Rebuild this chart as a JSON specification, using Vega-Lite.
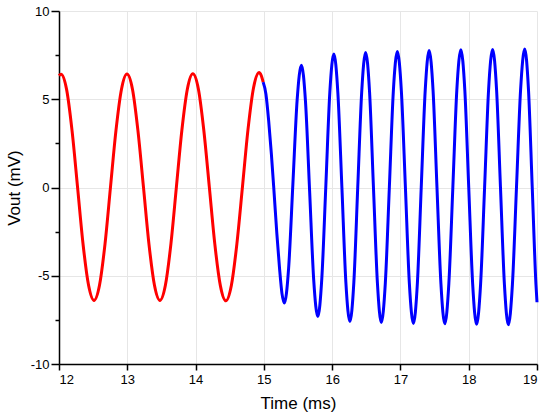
{
  "$schema": "https://vega.github.io/schema/vega-lite/v6.json",
  "width": 478,
  "height": 353,
  "autosize": "none",
  "padding": {"left": 59, "top": 11, "right": 13, "bottom": 56},
  "background": "white",
  "config": {
    "view": {"stroke": null},
    "font": "Liberation Sans",
    "axis": {
      "domainColor": "black",
      "domainWidth": 1.5,
      "tickColor": "black",
      "tickWidth": 1.5,
      "gridColor": "#e6e6e6",
      "gridWidth": 1,
      "labelColor": "black",
      "labelFontSize": 13,
      "labelFont": "Liberation Sans",
      "titleColor": "black",
      "titleFont": "Liberation Sans",
      "titleFontSize": 17,
      "titleFontWeight": "normal"
    }
  },
  "data": {
    "values": [
      {"t": 12.0, "v": 6.34, "part": "A"},
      {"t": 12.03, "v": 6.42, "part": "A"},
      {"t": 12.111, "v": 5.56, "part": "A"},
      {"t": 12.191, "v": 3.22, "part": "A"},
      {"t": 12.272, "v": 0.01, "part": "A"},
      {"t": 12.352, "v": -3.2, "part": "A"},
      {"t": 12.433, "v": -5.54, "part": "A"},
      {"t": 12.513, "v": -6.4, "part": "A"},
      {"t": 12.593, "v": -5.54, "part": "A"},
      {"t": 12.674, "v": -3.19, "part": "A"},
      {"t": 12.754, "v": 0.02, "part": "A"},
      {"t": 12.834, "v": 3.22, "part": "A"},
      {"t": 12.915, "v": 5.57, "part": "A"},
      {"t": 12.995, "v": 6.43, "part": "A"},
      {"t": 13.076, "v": 5.57, "part": "A"},
      {"t": 13.156, "v": 3.22, "part": "A"},
      {"t": 13.237, "v": 0.02, "part": "A"},
      {"t": 13.317, "v": -3.19, "part": "A"},
      {"t": 13.398, "v": -5.54, "part": "A"},
      {"t": 13.478, "v": -6.4, "part": "A"},
      {"t": 13.558, "v": -5.54, "part": "A"},
      {"t": 13.639, "v": -3.19, "part": "A"},
      {"t": 13.719, "v": 0.02, "part": "A"},
      {"t": 13.799, "v": 3.23, "part": "A"},
      {"t": 13.88, "v": 5.58, "part": "A"},
      {"t": 13.96, "v": 6.44, "part": "A"},
      {"t": 14.041, "v": 5.58, "part": "A"},
      {"t": 14.121, "v": 3.23, "part": "A"},
      {"t": 14.202, "v": 0.01, "part": "A"},
      {"t": 14.282, "v": -3.21, "part": "A"},
      {"t": 14.363, "v": -5.56, "part": "A"},
      {"t": 14.443, "v": -6.42, "part": "A"},
      {"t": 14.524, "v": -5.55, "part": "A"},
      {"t": 14.605, "v": -3.19, "part": "A"},
      {"t": 14.687, "v": 0.05, "part": "A"},
      {"t": 14.768, "v": 3.29, "part": "A"},
      {"t": 14.849, "v": 5.65, "part": "A"},
      {"t": 14.93, "v": 6.52, "part": "A"},
      {"t": 14.96, "v": 6.36, "part": "A"},
      {"t": 14.99, "v": 5.97, "part": "A"},
      {"t": 14.99, "v": 5.97, "part": "B"},
      {"t": 15.03, "v": 5.3, "part": "B"},
      {"t": 15.07, "v": 3.8, "part": "B"},
      {"t": 15.11, "v": 1.9, "part": "B"},
      {"t": 15.15, "v": -0.3, "part": "B"},
      {"t": 15.19, "v": -2.6, "part": "B"},
      {"t": 15.23, "v": -4.6, "part": "B"},
      {"t": 15.265, "v": -6.0, "part": "B"},
      {"t": 15.3, "v": -6.55, "part": "B"},
      {"t": 15.3625, "v": -4.58, "part": "B"},
      {"t": 15.425, "v": 0.19, "part": "B"},
      {"t": 15.4875, "v": 4.96, "part": "B"},
      {"t": 15.55, "v": 6.93, "part": "B"},
      {"t": 15.61, "v": 4.85, "part": "B"},
      {"t": 15.67, "v": -0.19, "part": "B"},
      {"t": 15.73, "v": -5.23, "part": "B"},
      {"t": 15.79, "v": -7.31, "part": "B"},
      {"t": 15.849, "v": -5.13, "part": "B"},
      {"t": 15.908, "v": 0.13, "part": "B"},
      {"t": 15.966, "v": 5.39, "part": "B"},
      {"t": 16.025, "v": 7.57, "part": "B"},
      {"t": 16.084, "v": 5.35, "part": "B"},
      {"t": 16.143, "v": -0.01, "part": "B"},
      {"t": 16.201, "v": -5.37, "part": "B"},
      {"t": 16.26, "v": -7.59, "part": "B"},
      {"t": 16.318, "v": -5.36, "part": "B"},
      {"t": 16.375, "v": 0.03, "part": "B"},
      {"t": 16.433, "v": 5.42, "part": "B"},
      {"t": 16.49, "v": 7.65, "part": "B"},
      {"t": 16.548, "v": 5.41, "part": "B"},
      {"t": 16.605, "v": 0.0, "part": "B"},
      {"t": 16.663, "v": -5.41, "part": "B"},
      {"t": 16.72, "v": -7.65, "part": "B"},
      {"t": 16.779, "v": -5.4, "part": "B"},
      {"t": 16.838, "v": 0.03, "part": "B"},
      {"t": 16.896, "v": 5.45, "part": "B"},
      {"t": 16.955, "v": 7.7, "part": "B"},
      {"t": 17.014, "v": 5.45, "part": "B"},
      {"t": 17.073, "v": 0.0, "part": "B"},
      {"t": 17.131, "v": -5.45, "part": "B"},
      {"t": 17.19, "v": -7.7, "part": "B"},
      {"t": 17.248, "v": -5.44, "part": "B"},
      {"t": 17.305, "v": 0.03, "part": "B"},
      {"t": 17.363, "v": 5.5, "part": "B"},
      {"t": 17.42, "v": 7.76, "part": "B"},
      {"t": 17.478, "v": 5.49, "part": "B"},
      {"t": 17.535, "v": 0.02, "part": "B"},
      {"t": 17.593, "v": -5.45, "part": "B"},
      {"t": 17.65, "v": -7.72, "part": "B"},
      {"t": 17.709, "v": -5.45, "part": "B"},
      {"t": 17.768, "v": 0.04, "part": "B"},
      {"t": 17.826, "v": 5.53, "part": "B"},
      {"t": 17.885, "v": 7.8, "part": "B"},
      {"t": 17.943, "v": 5.52, "part": "B"},
      {"t": 18.0, "v": 0.03, "part": "B"},
      {"t": 18.058, "v": -5.47, "part": "B"},
      {"t": 18.115, "v": -7.75, "part": "B"},
      {"t": 18.174, "v": -5.47, "part": "B"},
      {"t": 18.233, "v": 0.04, "part": "B"},
      {"t": 18.291, "v": 5.54, "part": "B"},
      {"t": 18.35, "v": 7.82, "part": "B"},
      {"t": 18.408, "v": 5.54, "part": "B"},
      {"t": 18.465, "v": 0.02, "part": "B"},
      {"t": 18.523, "v": -5.5, "part": "B"},
      {"t": 18.58, "v": -7.78, "part": "B"},
      {"t": 18.64, "v": -5.49, "part": "B"},
      {"t": 18.7, "v": 0.04, "part": "B"},
      {"t": 18.76, "v": 5.56, "part": "B"},
      {"t": 18.82, "v": 7.85, "part": "B"},
      {"t": 18.875, "v": 5.56, "part": "B"},
      {"t": 18.93, "v": 0.03, "part": "B"},
      {"t": 18.985, "v": -5.51, "part": "B"},
      {"t": 19.0, "v": -6.5, "part": "B"}
    ]
  },
  "mark": {"type": "line", "strokeWidth": 3, "interpolate": "monotone"},
  "encoding": {
    "x": {
      "field": "t",
      "type": "quantitative",
      "scale": {"domain": [12, 19], "nice": false, "zero": false},
      "axis": {
        "title": "Time (ms)",
        "values": [12, 13, 14, 15, 16, 17, 18, 19],
        "tickSize": 6,
        "labelPadding": 3,
        "titlePadding": 9
      }
    },
    "y": {
      "field": "v",
      "type": "quantitative",
      "scale": {"domain": [-10, 10], "nice": false},
      "axis": {
        "title": "Vout (mV)",
        "values": [-10, -7.5, -5, -2.5, 0, 2.5, 5, 7.5, 10],
        "labelExpr": "datum.value % 5 === 0 ? replace(datum.label, '\u2212', '-') : ''",
        "tickSize": {"condition": {"test": "datum.value % 5 === 0", "value": 8}, "value": 4},
        "gridOpacity": {"condition": {"test": "datum.value % 5 === 0", "value": 1}, "value": 0},
        "labelPadding": 2,
        "titlePadding": 7
      }
    },
    "color": {
      "field": "part",
      "type": "nominal",
      "scale": {"domain": ["A", "B"], "range": ["#ff0000", "#0000ff"]},
      "legend": null
    }
  }
}
